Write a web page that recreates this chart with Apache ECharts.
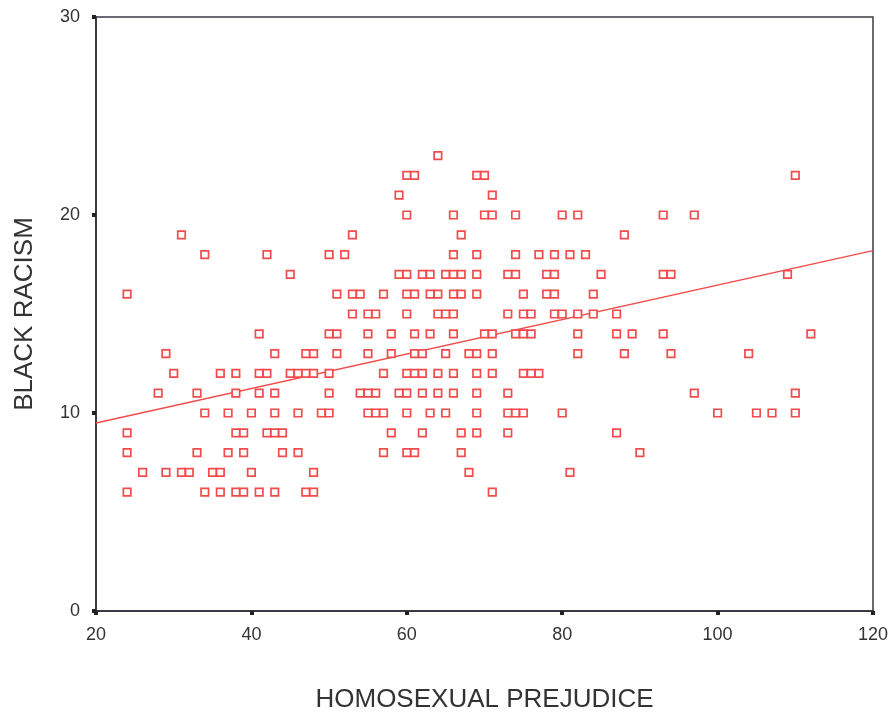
<!DOCTYPE html>
<html>
<head>
<meta charset="utf-8">
<script src="https://cdn.jsdelivr.net/npm/echarts@6/dist/echarts.min.js"></script>
<style>
  html, body { margin: 0; padding: 0; background: #fff; }
  #chart { width: 892px; height: 719px; }
</style>
</head>
<body>
<div id="chart"></div>
<script>
// homosexual prejudice scores, one list for each black racism score
const racism6 = [24, 34, 36, 38, 39, 41, 43, 47, 48, 71]
const racism7 = [26, 29, 31, 32, 35, 36, 40, 48, 68, 81]
const racism8 = [24, 33, 37, 39, 44, 46, 57, 60, 61, 67, 90]
const racism9 = [24, 38, 39, 42, 43, 44, 58, 62, 67, 69, 73, 87]
const racism10 = [34, 37, 40, 43, 46, 49, 50, 55, 56, 57, 60, 63, 65, 69, 73, 74, 75, 80, 100, 105, 107, 110]
const racism11 = [28, 33, 38, 41, 43, 50, 54, 55, 56, 59, 60, 62, 64, 66, 69, 73, 97, 110]
const racism12 = [30, 36, 38, 41, 42, 45, 46, 47, 48, 50, 57, 60, 61, 62, 64, 66, 69, 71, 75, 76, 77]
const racism13 = [29, 43, 47, 48, 51, 55, 58, 61, 62, 65, 68, 69, 71, 82, 88, 94, 104]
const racism14 = [41, 50, 51, 55, 58, 61, 63, 66, 70, 71, 74, 75, 76, 82, 87, 89, 93, 112]
const racism15 = [53, 55, 56, 60, 64, 65, 66, 73, 75, 76, 79, 80, 82, 84, 87]
const racism16 = [24, 51, 53, 54, 57, 60, 61, 63, 64, 66, 67, 69, 75, 78, 79, 84]
const racism17 = [45, 59, 60, 62, 63, 65, 66, 67, 69, 73, 74, 78, 79, 85, 93, 94, 109]
const racism18 = [34, 42, 50, 52, 66, 69, 74, 77, 79, 81, 83]
const racism19 = [31, 53, 67, 88]
const racism20 = [60, 66, 70, 71, 74, 80, 82, 93, 97]
const racism21 = [59, 71]
const racism22 = [60, 61, 69, 70, 110]
const racism23 = [64]

const racismLevels = [6, 7, 8, 9, 10, 11, 12, 13, 14, 15, 16, 17, 18, 19, 20, 21, 22, 23]
const prejudiceByLevel = [racism6, racism7, racism8, racism9, racism10, racism11, racism12,
  racism13, racism14, racism15, racism16, racism17, racism18, racism19, racism20, racism21,
  racism22, racism23]

// fit line end points
const fitX = [20, 120]
const fitY = [9.5, 18.2]

const scatterData = []
racismLevels.forEach((level, i) => {
  prejudiceByLevel[i].forEach(x => scatterData.push([x, level]))
})

const red = '#f24b4b'
const textColor = '#333'
const font = '"Liberation Sans", Arial, sans-serif'

const chart = echarts.init(document.getElementById('chart'))
chart.setOption({
  backgroundColor: '#fff',
  animation: false,
  grid: {
    left: 96,
    right: 19,
    top: 17,
    bottom: 108,
    show: true,
    borderColor: '#3a3a44',
    borderWidth: 1.5
  },
  xAxis: {
    type: 'value',
    min: 20,
    max: 120,
    interval: 20,
    name: 'HOMOSEXUAL PREJUDICE',
    nameLocation: 'middle',
    nameGap: 76,
    nameTextStyle: { fontFamily: font, fontSize: 26, color: textColor },
    axisLine: { show: true, onZero: false, lineStyle: { color: '#3a3a44', width: 2 } },
    axisTick: { show: true, length: 4, lineStyle: { color: '#222', width: 4 } },
    axisLabel: { fontFamily: font, fontSize: 18, color: textColor, margin: 15 },
    splitLine: { show: false }
  },
  yAxis: {
    type: 'value',
    min: 0,
    max: 30,
    interval: 10,
    name: 'BLACK RACISM',
    nameLocation: 'middle',
    nameGap: 58,
    nameTextStyle: { fontFamily: font, fontSize: 26, color: textColor },
    axisLine: { show: true, onZero: false, lineStyle: { color: '#3a3a44', width: 2 } },
    axisTick: { show: true, length: 4, lineStyle: { color: '#222', width: 4 } },
    axisLabel: { fontFamily: font, fontSize: 18, color: textColor, margin: 16 },
    splitLine: { show: false }
  },
  series: [
    {
      type: 'scatter',
      data: scatterData,
      symbol: 'rect',
      symbolSize: 7.5,
      itemStyle: { color: '#fff', borderColor: red, borderWidth: 1.7, opacity: 1 },
      z: 3
    },
    {
      type: 'line',
      data: fitX.map((x, i) => [x, fitY[i]]),
      symbol: 'none',
      lineStyle: { color: red, width: 1.5 },
      z: 2
    }
  ]
})
</script>
</body>
</html>
